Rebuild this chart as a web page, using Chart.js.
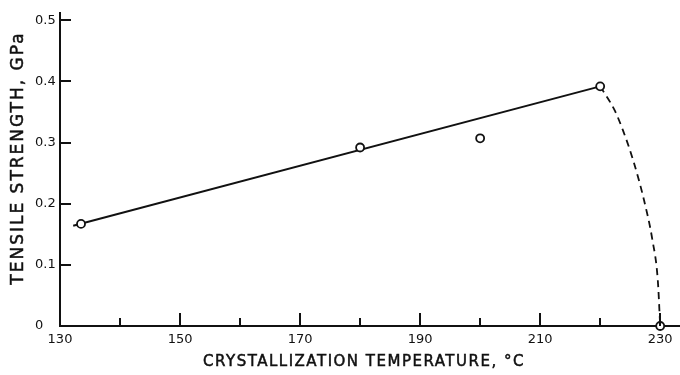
<!DOCTYPE html>
<html>
<head>
<meta charset="utf-8">
<script src="https://cdn.jsdelivr.net/npm/chart.js@4"></script>
<style>
  html, body { margin: 0; padding: 0; background: #fff; }
  #wrap { width: 680px; height: 375px; }
</style>
</head>
<body>
<div id="wrap"><canvas id="chart"></canvas></div>
<script>
// measured samples
var tempC = [133.5, 180, 200, 220, 230];
var strengthGPa = [0.167, 0.292, 0.307, 0.392, 0];

// straight fit through the low-temperature points
var fitT = [132.2, 220];
var fitS = [0.164, 0.392];

// dashed fall-off towards the melt
var dropT = [220, 222.4, 223.8, 225.5, 227.3, 228.7, 229.6, 230];
var dropS = [0.392, 0.353, 0.320, 0.271, 0.206, 0.141, 0.075, 0];

var xTicks = [130, 150, 170, 190, 210, 230];
var xMinor = [140, 160, 180, 200, 220];
var yTicks = [0, 0.1, 0.2, 0.3, 0.4, 0.5];

var xTitle = 'CRYSTALLIZATION TEMPERATURE, °C';
var yTitle = 'TENSILE STRENGTH, GPa';

var ink = '#111';

function pairs(xs, ys) {
    var out = [];
    for (let i = 0; i < xs.length; i++) {
        out.push({x: xs[i], y: ys[i]});
    }
    return out;
}

// slightly heavier lettering for the axis titles
function heavyText(ctx, text, x, y) {
    ctx.fillText(text, x, y);
    ctx.lineWidth = 0.5;
    ctx.strokeText(text, x, y);
}

// ticks drawn inward from the axes, plus the two axis titles
var axisDecor = {
    id: 'axisDecor',
    afterDraw(chart) {
        var ctx = chart.ctx;
        var xs = chart.scales.x;
        var ys = chart.scales.y;
        var area = chart.chartArea;
        ctx.save();
        ctx.strokeStyle = ink;
        ctx.lineWidth = 2;
        ctx.beginPath();
        xTicks.slice(1).forEach(function (v) {
            var px = Math.round(xs.getPixelForValue(v));
            ctx.moveTo(px, area.bottom);
            ctx.lineTo(px, area.bottom - 13);
        });
        xMinor.forEach(function (v) {
            var px = Math.round(xs.getPixelForValue(v));
            ctx.moveTo(px, area.bottom);
            ctx.lineTo(px, area.bottom - 8);
        });
        yTicks.slice(1).forEach(function (v) {
            var py = Math.round(ys.getPixelForValue(v));
            ctx.moveTo(area.left, py);
            ctx.lineTo(area.left + 11, py);
        });
        ctx.stroke();

        ctx.fillStyle = ink;
        ctx.textAlign = 'center';
        ctx.textBaseline = 'middle';
        ctx.letterSpacing = '1.5px';
        ctx.font = '15px "DejaVu Sans"';
        heavyText(ctx, xTitle, 364, 362);

        ctx.translate(19, 158);
        ctx.rotate(-Math.PI / 2);
        ctx.letterSpacing = '2px';
        ctx.font = '17px "DejaVu Sans"';
        heavyText(ctx, yTitle, 0, 0);
        ctx.restore();
    }
};

var ctx = document.getElementById('chart').getContext('2d');

new Chart(ctx, {
    type: 'scatter',
    data: {
        datasets: [
            {
                data: pairs(tempC, strengthGPa),
                showLine: false,
                clip: false,
                pointStyle: 'circle',
                pointRadius: 4,
                pointBorderWidth: 1.8,
                pointBorderColor: ink,
                pointBackgroundColor: '#fff',
            },
            {
                data: pairs(fitT, fitS),
                showLine: true,
                borderColor: ink,
                borderWidth: 2,
                pointRadius: 0,
            },
            {
                data: pairs(dropT, dropS),
                showLine: true,
                borderColor: ink,
                borderWidth: 1.8,
                borderDash: [7, 5],
                cubicInterpolationMode: 'monotone',
                pointRadius: 0,
            },
        ],
    },
    options: {
        responsive: true,
        maintainAspectRatio: false,
        animation: false,
        layout: {
            autoPadding: false,
            padding: {left: 35, top: 13, right: 0, bottom: 0},
        },
        plugins: {
            legend: {display: false},
            tooltip: {enabled: false},
        },
        scales: {
            x: {
                type: 'linear',
                min: 130,
                max: 233.3,
                afterBuildTicks: function (scale) {
                    scale.ticks = xTicks.map(function (v) { return {value: v}; });
                },
                afterFit: function (scale) {
                    scale.height = 49;
                    scale.paddingLeft = 0;
                    scale.paddingRight = 0;
                },
                grid: {display: false, drawTicks: false, tickLength: 0},
                border: {display: true, color: ink, width: 2},
                ticks: {
                    color: ink,
                    padding: 6,
                    maxRotation: 0,
                    font: {family: 'DejaVu Sans', size: 13},
                },
            },
            y: {
                type: 'linear',
                min: 0,
                max: 0.512,
                afterBuildTicks: function (scale) {
                    scale.ticks = yTicks.map(function (v) { return {value: v}; });
                },
                afterFit: function (scale) {
                    scale.width = 25;
                    scale.paddingTop = 0;
                    scale.paddingBottom = 0;
                },
                grid: {display: false, drawTicks: false, tickLength: 0},
                border: {display: true, color: ink, width: 2},
                ticks: {
                    color: ink,
                    crossAlign: 'far',
                    font: {family: 'DejaVu Sans', size: 13},
                    callback: function (v) { return v === 0 ? '0' : v.toFixed(1); },
                },
            },
        },
    },
    plugins: [axisDecor],
});
</script>
</body>
</html>
